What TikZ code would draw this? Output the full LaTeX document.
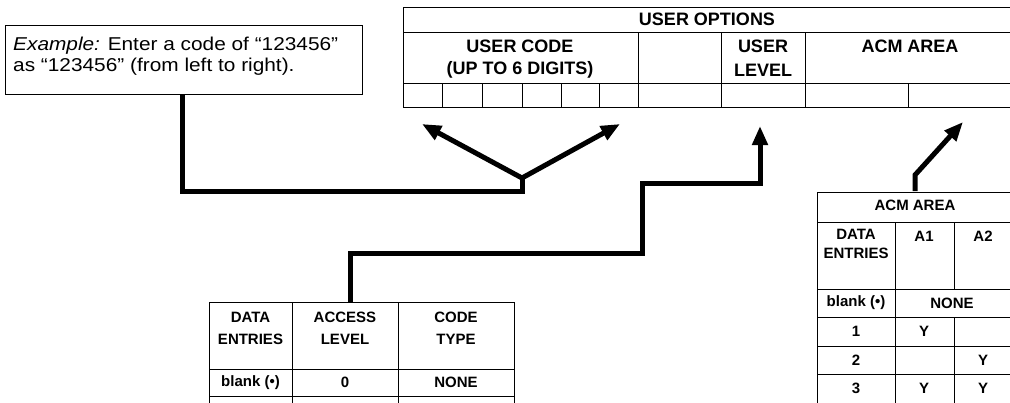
\documentclass[tikz,border=0pt]{standalone}
\usepackage{fontspec}
\setmainfont{Liberation Sans}
\newfontfamily\wideface[FakeStretch=1.12]{Liberation Sans}
\usetikzlibrary{arrows.meta}
\begin{document}
\begin{tikzpicture}[x=1pt,y=-1pt,
  grid/.style={line width=0.9pt},
  heavy/.style={line width=5pt, line join=miter, line cap=butt},
  tip/.style={-{Triangle[length=19pt,width=15pt]}},
  big/.style={font=\fontsize{18}{20}\selectfont\bfseries, inner sep=0pt},
  small/.style={font=\fontsize{15}{17}\selectfont\bfseries, inner sep=0pt},
  extext/.style={font=\wideface\fontsize{18.6}{21}\selectfont, inner sep=0pt, anchor=base west}]
\useasboundingbox (0,0) rectangle (1010,402);

% ---------- Example box ----------
\node[draw, grid, minimum width=357pt, minimum height=69pt, inner sep=0pt, anchor=north west] (ex) at (5,25) {};
\node[extext] (ex1) at (13,50) {\textit{Example:} Enter a code of “123456”};
\node[extext] (ex2) at (13,71) {as “123456” (from left to right).};

% ---------- Top table: USER OPTIONS ----------
\draw[grid] (403,7) rectangle (1012,107);
\draw[grid] (403,32) -- (1012,32) (403,83) -- (1012,83);
\foreach \x in {638,721,805} \draw[grid] (\x,32) -- (\x,107);
\foreach \x in {442,482,522,561,599,908} \draw[grid] (\x,83) -- (\x,107);
\node[big] (uo) at (707,19.5) {USER OPTIONS};
\node[big] (uc1) at (520,46) {USER CODE};
\node[big] (uc2) at (520,70) {(UP TO 6 DIGITS)};
\node[big] (ul1) at (763,46) {USER};
\node[big] (ul2) at (763,70) {LEVEL};
\node[big] (ua) at (910,46) {ACM AREA};

% ---------- Bottom-left table ----------
\draw[grid] (209,302) -- (514,302) (209,369) -- (514,369) (209,396) -- (514,396);
\foreach \x in {209,292,398,514} \draw[grid] (\x,302) -- (\x,405);
\node[small] (d1) at (250.5,317) {DATA};
\node[small] (d2) at (250.5,339) {ENTRIES};
\node[small] (a1) at (345,317) {ACCESS};
\node[small] (a2) at (345,339) {LEVEL};
\node[small] (c1) at (456,317) {CODE};
\node[small] (c2) at (456,339) {TYPE};
\node[small] (b1) at (250.5,382.5) {blank (•)};
\node[small] (b2) at (345,382.5) {0};
\node[small] (b3) at (456,382.5) {NONE};

% ---------- ACM AREA table ----------
\draw[grid] (817,192) rectangle (1013,405);
\foreach \y in {222,289,317,346,374} \draw[grid] (817,\y) -- (1013,\y);
\draw[grid] (895,222) -- (895,405);
\draw[grid] (954,222) -- (954,289) (954,317) -- (954,405);
\node[small] (m0) at (915,205) {ACM AREA};
\node[small] (m1) at (856,234) {DATA};
\node[small] (m2) at (856,253) {ENTRIES};
\node[small] (mA1) at (924,236) {A1};
\node[small] (mA2) at (983,236) {A2};
\node[small] (mb) at (856,303) {blank (•)};
\node[small] (mn) at (952,303) {NONE};
\node[small] (r1) at (856,331.5) {1};
\node[small] (r1a) at (924,331.5) {Y};
\node[small] (r2) at (856,360) {2};
\node[small] (r2b) at (983,360) {Y};
\node[small] (r3) at (856,388.5) {3};
\node[small] (r3a) at (924,388.5) {Y};
\node[small] (r3b) at (983,388.5) {Y};

% ---------- connector coordinates ----------
\coordinate (j1) at (522,191);
\coordinate (j1top) at (522,178);
\coordinate (tipL) at (422,124);
\coordinate (tipR) at (620,124);
\coordinate (bt) at (350,302);
\coordinate (k1) at (642,253);
\coordinate (k2) at (760,183);
\coordinate (tipU) at (760,126);
\coordinate (at) at (915,191);
\coordinate (ab) at (915,175);
\coordinate (tipA) at (963,122);

% ---------- connectors ----------
\draw[heavy] (ex.south -| 182,0) |- (j1) -- (j1top);
\draw[heavy, tip] (j1top) -- (tipL);
\draw[heavy, tip] (j1top) -- (tipR);
\draw[heavy, tip] (bt) |- (k1) |- (k2) -- (tipU);
\draw[heavy, tip] (at) -- (ab) -- (tipA);
\end{tikzpicture}
\end{document}
